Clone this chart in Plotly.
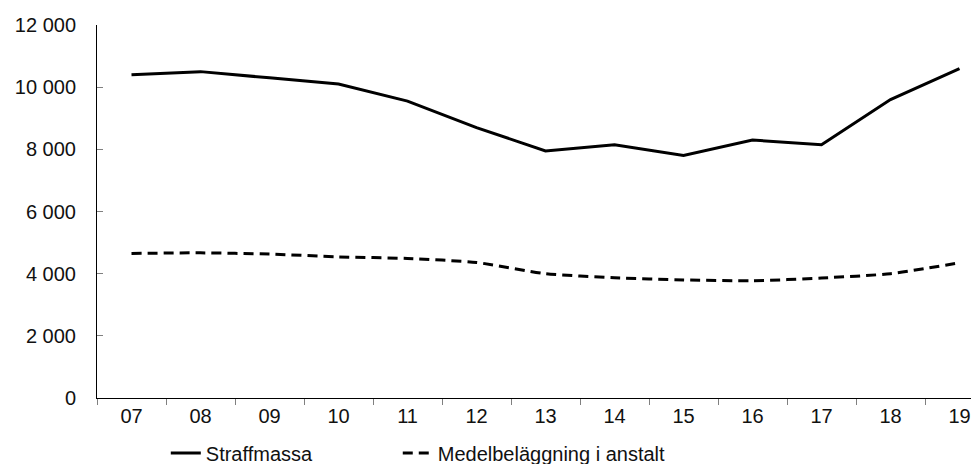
import plotly.graph_objects as go

years = ["07", "08", "09", "10", "11", "12", "13", "14", "15", "16", "17", "18", "19"]
straffmassa = [10400, 10500, 10300, 10100, 9550, 8700, 7950, 8150, 7800, 8300, 8150, 9600, 10600]
medelbelaggning = [4650, 4670, 4630, 4540, 4490, 4360, 4000, 3870, 3800, 3770, 3860, 4000, 4350]
y_ticks = [0, 2000, 4000, 6000, 8000, 10000, 12000]
y_ticktext = ["0", "2 000", "4 000", "6 000", "8 000", "10 000", "12 000"]

idx = list(range(len(years)))
boundaries = [i - 0.5 for i in range(len(years) + 1)]

FONT = "Liberation Sans, Arial, sans-serif"
FS = 20

fig = go.Figure()
fig.add_trace(go.Scatter(
    x=idx, y=straffmassa, mode="lines", name="Straffmassa",
    line=dict(color="black", width=3), legend="legend",
))
fig.add_trace(go.Scatter(
    x=idx, y=medelbelaggning, mode="lines", name="Medelbeläggning i anstalt",
    line=dict(color="black", width=3, dash="10px,6px", shape="spline", smoothing=0.6),
    legend="legend2",
))

xr = [-0.5, -0.5 + 882 / 69]
leg_common = dict(
    orientation="h", xanchor="left", y=-0.095, yanchor="top",
    font=dict(family=FONT, size=FS, color="#111111"),
    bgcolor="rgba(0,0,0,0)",
)

fig.update_layout(
    width=971, height=456,
    margin=dict(l=89, r=0, t=17, b=66, autoexpand=False),
    paper_bgcolor="white", plot_bgcolor="white",
    font=dict(family=FONT, size=FS, color="#111111"),
    showlegend=True,
    legend=dict(x=0.078, **leg_common),
    legend2=dict(x=0.341, **leg_common),
    xaxis=dict(
        range=xr, tickmode="array", tickvals=idx, ticktext=years,
        ticks="", showgrid=False, zeroline=False, automargin=False,
        showline=True, linecolor="black", linewidth=1,
        minor=dict(ticks="outside", tickmode="array", tickvals=boundaries,
                   ticklen=6, tickcolor="#808080", tickwidth=1, showgrid=False),
        tickfont=dict(family=FONT, size=FS, color="#111111"),
        fixedrange=True,
    ),
    xaxis2=dict(
        range=xr, overlaying="x", anchor="y", side="bottom", automargin=False,
        tickmode="array", tickvals=boundaries, ticks="inside", ticklen=6,
        tickcolor="#808080", tickwidth=1, showticklabels=False,
        showgrid=False, zeroline=False, showline=False,
    ),
    yaxis=dict(
        range=[0, 12000], tickmode="array", tickvals=y_ticks, ticktext=y_ticktext,
        ticks="inside", ticklen=6, tickcolor="#808080", tickwidth=1,
        showgrid=False, zeroline=False, automargin=False,
        showline=True, linecolor="black", linewidth=1,
        tickfont=dict(family=FONT, size=FS, color="#111111"),
        ticklabelstandoff=16,
    ),
)

fig.write_html("out.html")
